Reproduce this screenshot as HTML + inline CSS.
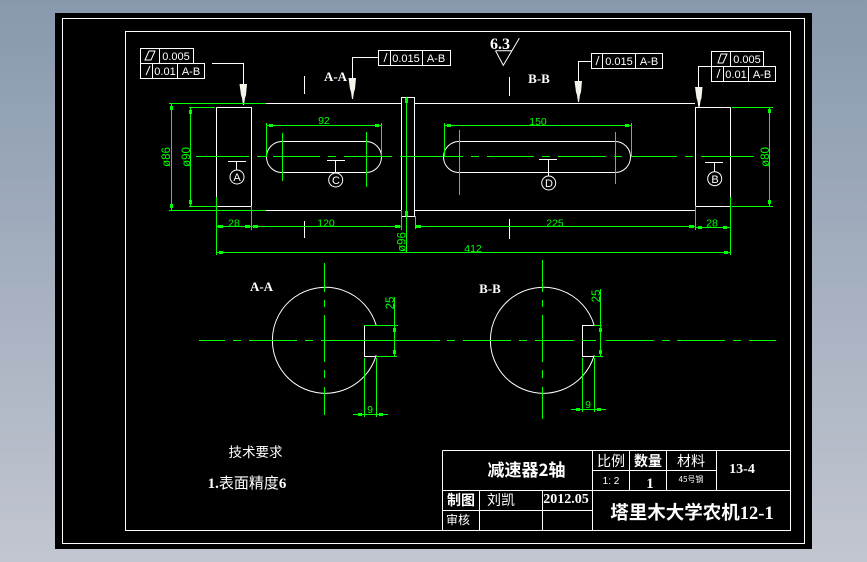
<!DOCTYPE html>
<html><head><meta charset="utf-8"><style>
html,body{margin:0;padding:0;width:867px;height:562px;overflow:hidden;background:linear-gradient(#8899ae,#c2c6d0)}
svg{display:block;position:absolute;left:0;top:0}
text{font-family:"Liberation Sans","Noto Sans CJK SC",sans-serif;text-anchor:middle}
.w{stroke:#fff;fill:none;stroke-width:1}
.g{stroke:#0f0;fill:none;stroke-width:1}
.gt{fill:#0f0;font-size:10.5px;font-family:"Liberation Mono",monospace}
.gr{font-size:11.5px}
.wt{fill:#fff;font-size:11px}
.b{fill:#fff;font-family:"Liberation Serif","Noto Serif CJK SC",serif;font-weight:bold}
.c{fill:#fff;font-family:"Noto Sans CJK SC",sans-serif}
</style></head><body>
<svg width="867" height="562" viewBox="0 0 867 562" xmlns="http://www.w3.org/2000/svg">
<rect x="55" y="13" width="757" height="536" fill="#000"/>
<g class="w" shape-rendering="crispEdges">
<rect x="62.5" y="18.5" width="742" height="525"/>
<rect x="125.5" y="31.5" width="665" height="499"/>
<path d="M266 103.5H401M415 103.5H695M266 210.5H401M415 210.5H695"/>
<rect x="216.5" y="107.5" width="35" height="99"/>
<rect x="695.5" y="107.5" width="35" height="99"/>
<rect x="401.5" y="97.5" width="13" height="119"/>
<path d="M304.5 76V94M304.5 221V238M509.5 77V96M509.5 219V239"/>
<path d="M282 141.5H366M282 172.5H366M459 141.5H615M459 172.5H615"/>
<path d="M212 63.5H243.5V84M378 57.5H352.5V78M591 61.5H578.5V81M712 66.5H698.5V87"/>
<path d="M228 161.5H246M236.5 161.5V170M327 160.5H345M335.5 160.5V173M539 159.5H557M548.5 159.5V176M705 162.5H723M714.5 162.5V172"/>
<!-- tolerance boxes -->
<path d="M140.5 48.5H193.5V63.5H204.5V78.5H140.5ZM140.5 63.5H193.5M159.5 48.5V63.5M152.5 63.5V78.5M177.5 63.5V78.5"/>
<path d="M378.5 50.5H450.5V65.5H378.5ZM390.5 50.5V65.5M422.5 50.5V65.5"/>
<path d="M591.5 53.5H662.5V68.5H591.5ZM602.5 53.5V68.5M635.5 53.5V68.5"/>
<path d="M711.5 51.5H763.5V66.5H775.5V81.5H711.5ZM711.5 66.5H763.5M730.5 51.5V66.5M723.5 66.5V81.5M748.5 66.5V81.5"/>
<!-- title block -->
<path d="M442.5 450.5H790.5M442.5 450.5V530.5M442.5 490.5H790.5M592.5 450.5V530.5M629.5 450.5V490.5M666.5 450.5V490.5M716.5 450.5V490.5M592.5 470.5H716.5M479.5 490.5V530.5M542.5 490.5V530.5M442.5 510.5H592.5"/>
<!-- keyways -->
<path d="M376 325.5H364.5V356.5H376M594 325.5H582.5V356.5H594"/>
</g>
<g class="w">
<path d="M282 141.5A15.5 15.5 0 0 0 282 172.5M366 141.5A15.5 15.5 0 0 1 366 172.5M459 141.5A15.5 15.5 0 0 0 459 172.5M615 141.5A15.5 15.5 0 0 1 615 172.5"/>
<circle cx="237" cy="177" r="7"/><circle cx="335.7" cy="180" r="7"/><circle cx="548.7" cy="183" r="7"/><circle cx="714.7" cy="178.7" r="7"/>
<path d="M376.2 325.3A53 53 0 1 0 376.2 355.3M594.2 325.3A53 53 0 1 0 594.2 355.3"/>
<path d="M495.5 50.7H512M495.5 50.7L503.3 65.3L519.3 38.3"/>
</g>
<g fill="#f4f4ea">
<path d="M239.5 84H247L246 95L245 98L244 105H243L242 98L241 95Z"/>
<path d="M348.5 78H356L355 89L354 92L353 99H352L351 92L350 89Z"/>
<path d="M574.5 81H582L581 92L580 95L579 102H578L577 95L576 92Z"/>
<path d="M695 87H702.5L701.5 98L700.5 101L699.5 108H698.5L697.5 101L696.5 98Z"/>
</g>
<g class="g" shape-rendering="crispEdges">
<!-- main centerline -->
<path d="M196 156.5H249M257 156.5H266M273 156.5H320M328 156.5H336M344 156.5H392M400 156.5H443M471 156.5H479M487 156.5H534M542 156.5H550M558 156.5H606M614 156.5H622M631 156.5H677M685 156.5H693M701 156.5H754"/>
<path d="M445 156.5H463"/>
<path d="M169 103.5H266M169 210.5H266M189 107.5H215M189 206.5H216"/>
<path d="M171.5 103V210M190.5 107V206"/>
<path d="M732 107.5H773M732 206.5H773M769.5 107V206"/>
<!-- slot dims -->
<path d="M266.5 123V157M381.5 123V157M266.5 125.5H381.5M444.5 123V157M631.5 123V157M444.5 125.5H631.5"/>
<path d="M282.5 133V181M366.5 132V187M459.5 130V195M615.5 132V184"/>
<!-- bottom dims -->
<path d="M216.5 197V255M251.5 206V230M401.5 210V230M415.5 216V229M695.5 206V230M730.5 197V255"/>
<path d="M217 226.5H251M251 226.5H401M415 226.5H695M695 227.5H730M217 252.5H730"/>
<path d="M406.5 97V252"/>
<!-- sections -->
<path d="M199 340.5H225M233 340.5H241M249 340.5H297M305 340.5H313M321 340.5H440M447 340.5H455M463 340.5H511M519 340.5H527M535 340.5H574M582 340.5H596M606 340.5H654M662 340.5H670M677 340.5H725M733 340.5H741M749 340.5H776"/>
<path d="M324.5 263V292M324.5 300V307M324.5 315V362M324.5 370V378M324.5 387V415"/>
<path d="M542.5 260V292M542.5 300V307M542.5 315V362M542.5 370V378M542.5 387V419"/>
<path d="M364 325.5H398M376 356.5H397M394.5 297V357"/>
<path d="M364.5 358V417M376.5 358V417M353 414.5H388"/>
<path d="M594 325.5H602M594 356.5H603M600.5 289V357"/>
<path d="M582.5 358V412M594.5 358V412M571 409.5H606"/>
</g>
<g fill="#0f0" shape-rendering="crispEdges">
<rect x="269" y="124" width="4" height="3"/><rect x="375" y="124" width="4" height="3"/>
<rect x="447" y="124" width="4" height="3"/><rect x="625" y="124" width="4" height="3"/>
<rect x="170" y="106" width="3" height="4"/><rect x="170" y="204" width="3" height="4"/>
<rect x="189" y="110" width="3" height="4"/><rect x="189" y="200" width="3" height="4"/>
<rect x="768" y="109" width="3" height="4"/><rect x="768" y="200" width="3" height="4"/>
<rect x="218" y="225" width="5" height="3"/><rect x="245" y="225" width="5" height="3"/>
<rect x="253" y="225" width="5" height="3"/><rect x="395" y="225" width="5" height="3"/>
<rect x="416" y="225" width="5" height="3"/><rect x="689" y="225" width="5" height="3"/>
<rect x="698" y="226" width="4" height="3"/><rect x="723" y="226" width="4" height="3"/>
<rect x="219" y="251" width="4" height="3"/><rect x="724" y="251" width="4" height="3"/>
<rect x="393" y="328" width="3" height="4"/><rect x="393" y="350" width="3" height="4"/>
<rect x="599" y="328" width="3" height="4"/><rect x="599" y="350" width="3" height="4"/>
<rect x="358" y="413" width="4" height="3"/><rect x="379" y="413" width="4" height="3"/>
<rect x="576" y="408" width="4" height="3"/><rect x="597" y="408" width="4" height="3"/>
<rect x="405" y="98" width="3" height="5"/><rect x="405" y="211" width="3" height="5"/>
</g>
<!-- green text -->
<g class="gt">
<text x="324" y="124">92</text>
<text x="538" y="125">150</text>
<text x="234" y="226.5">28</text>
<text x="326" y="226.5">120</text>
<text x="555" y="226.5">225</text>
<text x="712" y="226.5">28</text>
<text x="473" y="252">412</text>
<text class="gr" transform="translate(170,157) rotate(-90)">ø86</text>
<text class="gr" transform="translate(190,157) rotate(-90)">ø90</text>
<text class="gr" transform="translate(769,157) rotate(-90)">ø80</text>
<text class="gr" transform="translate(405.5,242) rotate(-90)">ø96</text>
<text class="gr" transform="translate(394,303) rotate(-90)">25</text>
<text class="gr" transform="translate(600,296) rotate(-90)">25</text>
<text x="370" y="413">9</text>
<text x="588" y="408">9</text>
</g>
<!-- circled letters -->
<g class="wt">
<text x="237" y="181">A</text><text x="336" y="184">C</text><text x="549" y="187">D</text><text x="715" y="183">B</text>
</g>
<!-- tolerance text -->
<g class="wt">
<text x="176" y="60">0.005</text><text x="165" y="75">0.01</text><text x="191" y="75">A-B</text>
<text x="406" y="62">0.015</text><text x="436" y="62">A-B</text>
<text x="619" y="65">0.015</text><text x="649" y="65">A-B</text>
<text x="747" y="63">0.005</text><text x="736" y="78">0.01</text><text x="762" y="78">A-B</text>
</g>
<g class="w">
<path d="M146 75L150 66M384 62L387 53M596 65L599 56M717 78L720 69"/>
<path d="M145 60L149 51H155L151 60ZM718 63L721 54H727L723 63Z"/>
</g>
<!-- bold labels -->
<text class="b" x="335.5" y="81" font-size="13">A-A</text>
<text class="b" x="539" y="83" font-size="13">B-B</text>
<text class="b" x="261.5" y="291" font-size="13">A-A</text>
<text class="b" x="490" y="293" font-size="13">B-B</text>
<text class="b" x="500" y="49" font-size="16">6.3</text>
<text class="c" x="255.5" y="457" font-size="13.5">技术要求</text>
<text class="c" x="247" y="488" font-size="15"><tspan class="b">1.</tspan>表面精度<tspan class="b">6</tspan></text>
<text class="c" x="526.5" y="476" font-size="17" font-weight="bold">减速器2轴</text>
<text class="c" x="611" y="466" font-size="14">比例</text>
<text class="c" x="648" y="466" font-size="14" font-weight="bold">数量</text>
<text class="c" x="691" y="466" font-size="14">材料</text>
<text class="wt" x="611" y="484" style="font-size:10px">1: 2</text>
<text class="b" x="650" y="488" font-size="15">1</text>
<text class="c" x="691" y="482" font-size="8">45号钢</text>
<text class="b" x="742" y="473" font-size="14">13-4</text>
<text class="c" x="461" y="505" font-size="14" font-weight="bold">制图</text>
<text class="c" x="501" y="505" font-size="14">刘凯</text>
<text class="b" x="566" y="503" font-size="14">2012.05</text>
<text class="c" x="458" y="524" font-size="12">审核</text>
<text class="c" x="692" y="519" font-size="18.5"><tspan font-weight="bold">塔里木大学农机</tspan><tspan class="b">12-1</tspan></text>
</svg>
</body></html>
